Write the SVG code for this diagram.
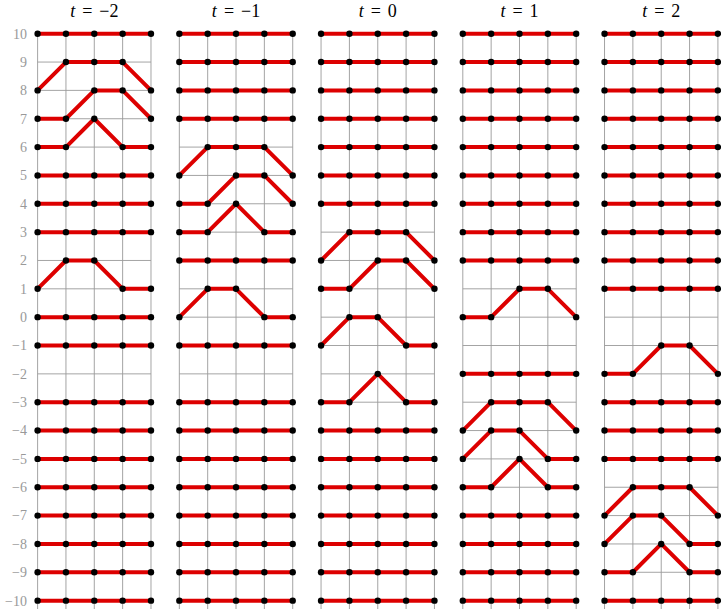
<svg xmlns="http://www.w3.org/2000/svg" xmlns:xlink="http://www.w3.org/1999/xlink" width="721" height="609" viewBox="0 0 721 609">
<style>
.g{fill:none;stroke:#9a9a9a;stroke-width:0.9}
.p{fill:none;stroke:#dd0000;stroke-width:4;stroke-linejoin:round}
.d{fill:#000}
</style>
<defs>
<path id="grid" class="g" d="M0 33.7V609M28.35 33.7V609M56.69 33.7V609M85.04 33.7V609M113.39 33.7V609M0 33.7H113.39M0 62.05H113.39M0 90.39H113.39M0 118.74H113.39M0 147.09H113.39M0 175.43H113.39M0 203.78H113.39M0 232.13H113.39M0 260.47H113.39M0 288.82H113.39M0 317.17H113.39M0 345.51H113.39M0 373.86H113.39M0 402.2H113.39M0 430.55H113.39M0 458.9H113.39M0 487.24H113.39M0 515.59H113.39M0 543.94H113.39M0 572.28H113.39M0 600.63H113.39"/>
<g id="flat">
<path class="p" d="M0 0H113.39"/>
<circle class="d" cx="0" cy="0" r="3.2"/><circle class="d" cx="28.35" cy="0" r="3.2"/><circle class="d" cx="56.69" cy="0" r="3.2"/><circle class="d" cx="85.04" cy="0" r="3.2"/><circle class="d" cx="113.39" cy="0" r="3.2"/>
</g>
</defs>
<g id="yaxis" font-family="Times New Roman, Liberation Serif, serif" font-size="14" fill="#999" text-anchor="end">
<text x="27" y="38.6">10</text>
<text x="27" y="66.95">9</text>
<text x="27" y="95.29">8</text>
<text x="27" y="123.64">7</text>
<text x="27" y="151.99">6</text>
<text x="27" y="180.33">5</text>
<text x="27" y="208.68">4</text>
<text x="27" y="237.03">3</text>
<text x="27" y="265.37">2</text>
<text x="27" y="293.72">1</text>
<text x="27" y="322.07">0</text>
<text x="27" y="350.41">−1</text>
<text x="27" y="378.76">−2</text>
<text x="27" y="407.1">−3</text>
<text x="27" y="435.45">−4</text>
<text x="27" y="463.8">−5</text>
<text x="27" y="492.14">−6</text>
<text x="27" y="520.49">−7</text>
<text x="27" y="548.84">−8</text>
<text x="27" y="577.18">−9</text>
<text x="27" y="605.53">−10</text>
</g>
<g id="titles" font-family="Times New Roman, Liberation Serif, serif" font-size="18" fill="#000" text-anchor="middle" word-spacing="2.5">
<text x="94.29" y="17"><tspan font-style="italic">t</tspan> = −2</text>
<text x="236.03" y="17"><tspan font-style="italic">t</tspan> = −1</text>
<text x="377.76" y="17"><tspan font-style="italic">t</tspan> = 0</text>
<text x="519.49" y="17"><tspan font-style="italic">t</tspan> = 1</text>
<text x="661.22" y="17"><tspan font-style="italic">t</tspan> = 2</text>
</g>
<g id="panel1" transform="translate(37.6,0)">
<use href="#grid"/>
<use href="#flat" y="33.7"/><use href="#flat" y="175.43"/><use href="#flat" y="203.78"/><use href="#flat" y="232.13"/><use href="#flat" y="317.17"/><use href="#flat" y="345.51"/>
<use href="#flat" y="402.2"/><use href="#flat" y="430.55"/><use href="#flat" y="458.9"/><use href="#flat" y="487.24"/><use href="#flat" y="515.59"/><use href="#flat" y="543.94"/><use href="#flat" y="572.28"/><use href="#flat" y="600.63"/>
<g id="p1a"><polyline class="p" points="0,90.39 28.35,62.05 56.69,62.05 85.04,62.05 113.39,90.39"/><circle class="d" cx="0" cy="90.39" r="3.2"/><circle class="d" cx="28.35" cy="62.05" r="3.2"/><circle class="d" cx="56.69" cy="62.05" r="3.2"/><circle class="d" cx="85.04" cy="62.05" r="3.2"/><circle class="d" cx="113.39" cy="90.39" r="3.2"/></g>
<g id="p1b"><polyline class="p" points="0,118.74 28.35,118.74 56.69,90.39 85.04,90.39 113.39,118.74"/><circle class="d" cx="0" cy="118.74" r="3.2"/><circle class="d" cx="28.35" cy="118.74" r="3.2"/><circle class="d" cx="56.69" cy="90.39" r="3.2"/><circle class="d" cx="85.04" cy="90.39" r="3.2"/><circle class="d" cx="113.39" cy="118.74" r="3.2"/></g>
<g id="p1c"><polyline class="p" points="0,147.09 28.35,147.09 56.69,118.74 85.04,147.09 113.39,147.09"/><circle class="d" cx="0" cy="147.09" r="3.2"/><circle class="d" cx="28.35" cy="147.09" r="3.2"/><circle class="d" cx="56.69" cy="118.74" r="3.2"/><circle class="d" cx="85.04" cy="147.09" r="3.2"/><circle class="d" cx="113.39" cy="147.09" r="3.2"/></g>
<g id="p1d"><polyline class="p" points="0,288.82 28.35,260.47 56.69,260.47 85.04,288.82 113.39,288.82"/><circle class="d" cx="0" cy="288.82" r="3.2"/><circle class="d" cx="28.35" cy="260.47" r="3.2"/><circle class="d" cx="56.69" cy="260.47" r="3.2"/><circle class="d" cx="85.04" cy="288.82" r="3.2"/><circle class="d" cx="113.39" cy="288.82" r="3.2"/></g>
</g>
<g id="panel2" transform="translate(179.33,0)">
<use href="#grid"/>
<use href="#flat" y="33.7"/><use href="#flat" y="62.05"/><use href="#flat" y="90.39"/><use href="#flat" y="118.74"/><use href="#flat" y="260.47"/><use href="#flat" y="345.51"/>
<use href="#flat" y="402.2"/><use href="#flat" y="430.55"/><use href="#flat" y="458.9"/><use href="#flat" y="487.24"/><use href="#flat" y="515.59"/><use href="#flat" y="543.94"/><use href="#flat" y="572.28"/><use href="#flat" y="600.63"/>
<g id="p2a"><polyline class="p" points="0,175.43 28.35,147.09 56.69,147.09 85.04,147.09 113.39,175.43"/><circle class="d" cx="0" cy="175.43" r="3.2"/><circle class="d" cx="28.35" cy="147.09" r="3.2"/><circle class="d" cx="56.69" cy="147.09" r="3.2"/><circle class="d" cx="85.04" cy="147.09" r="3.2"/><circle class="d" cx="113.39" cy="175.43" r="3.2"/></g>
<g id="p2b"><polyline class="p" points="0,203.78 28.35,203.78 56.69,175.43 85.04,175.43 113.39,203.78"/><circle class="d" cx="0" cy="203.78" r="3.2"/><circle class="d" cx="28.35" cy="203.78" r="3.2"/><circle class="d" cx="56.69" cy="175.43" r="3.2"/><circle class="d" cx="85.04" cy="175.43" r="3.2"/><circle class="d" cx="113.39" cy="203.78" r="3.2"/></g>
<g id="p2c"><polyline class="p" points="0,232.13 28.35,232.13 56.69,203.78 85.04,232.13 113.39,232.13"/><circle class="d" cx="0" cy="232.13" r="3.2"/><circle class="d" cx="28.35" cy="232.13" r="3.2"/><circle class="d" cx="56.69" cy="203.78" r="3.2"/><circle class="d" cx="85.04" cy="232.13" r="3.2"/><circle class="d" cx="113.39" cy="232.13" r="3.2"/></g>
<g id="p2d"><polyline class="p" points="0,317.17 28.35,288.82 56.69,288.82 85.04,317.17 113.39,317.17"/><circle class="d" cx="0" cy="317.17" r="3.2"/><circle class="d" cx="28.35" cy="288.82" r="3.2"/><circle class="d" cx="56.69" cy="288.82" r="3.2"/><circle class="d" cx="85.04" cy="317.17" r="3.2"/><circle class="d" cx="113.39" cy="317.17" r="3.2"/></g>
</g>
<g id="panel3" transform="translate(321.06,0)">
<use href="#grid"/>
<use href="#flat" y="33.7"/><use href="#flat" y="62.05"/><use href="#flat" y="90.39"/><use href="#flat" y="118.74"/><use href="#flat" y="147.09"/><use href="#flat" y="175.43"/><use href="#flat" y="203.78"/>
<use href="#flat" y="430.55"/><use href="#flat" y="458.9"/><use href="#flat" y="487.24"/><use href="#flat" y="515.59"/><use href="#flat" y="543.94"/><use href="#flat" y="572.28"/><use href="#flat" y="600.63"/>
<g id="p3a"><polyline class="p" points="0,260.47 28.35,232.13 56.69,232.13 85.04,232.13 113.39,260.47"/><circle class="d" cx="0" cy="260.47" r="3.2"/><circle class="d" cx="28.35" cy="232.13" r="3.2"/><circle class="d" cx="56.69" cy="232.13" r="3.2"/><circle class="d" cx="85.04" cy="232.13" r="3.2"/><circle class="d" cx="113.39" cy="260.47" r="3.2"/></g>
<g id="p3b"><polyline class="p" points="0,288.82 28.35,288.82 56.69,260.47 85.04,260.47 113.39,288.82"/><circle class="d" cx="0" cy="288.82" r="3.2"/><circle class="d" cx="28.35" cy="288.82" r="3.2"/><circle class="d" cx="56.69" cy="260.47" r="3.2"/><circle class="d" cx="85.04" cy="260.47" r="3.2"/><circle class="d" cx="113.39" cy="288.82" r="3.2"/></g>
<g id="p3c"><polyline class="p" points="0,345.51 28.35,317.17 56.69,317.17 85.04,345.51 113.39,345.51"/><circle class="d" cx="0" cy="345.51" r="3.2"/><circle class="d" cx="28.35" cy="317.17" r="3.2"/><circle class="d" cx="56.69" cy="317.17" r="3.2"/><circle class="d" cx="85.04" cy="345.51" r="3.2"/><circle class="d" cx="113.39" cy="345.51" r="3.2"/></g>
<g id="p3d"><polyline class="p" points="0,402.2 28.35,402.2 56.69,373.86 85.04,402.2 113.39,402.2"/><circle class="d" cx="0" cy="402.2" r="3.2"/><circle class="d" cx="28.35" cy="402.2" r="3.2"/><circle class="d" cx="56.69" cy="373.86" r="3.2"/><circle class="d" cx="85.04" cy="402.2" r="3.2"/><circle class="d" cx="113.39" cy="402.2" r="3.2"/></g>
</g>
<g id="panel4" transform="translate(462.8,0)">
<use href="#grid"/>
<use href="#flat" y="33.7"/><use href="#flat" y="62.05"/><use href="#flat" y="90.39"/><use href="#flat" y="118.74"/><use href="#flat" y="147.09"/><use href="#flat" y="175.43"/><use href="#flat" y="203.78"/><use href="#flat" y="232.13"/><use href="#flat" y="260.47"/>
<use href="#flat" y="373.86"/>
<use href="#flat" y="515.59"/><use href="#flat" y="543.94"/><use href="#flat" y="572.28"/><use href="#flat" y="600.63"/>
<g id="p4a"><polyline class="p" points="0,317.17 28.35,317.17 56.69,288.82 85.04,288.82 113.39,317.17"/><circle class="d" cx="0" cy="317.17" r="3.2"/><circle class="d" cx="28.35" cy="317.17" r="3.2"/><circle class="d" cx="56.69" cy="288.82" r="3.2"/><circle class="d" cx="85.04" cy="288.82" r="3.2"/><circle class="d" cx="113.39" cy="317.17" r="3.2"/></g>
<g id="p4b"><polyline class="p" points="0,430.55 28.35,402.2 56.69,402.2 85.04,402.2 113.39,430.55"/><circle class="d" cx="0" cy="430.55" r="3.2"/><circle class="d" cx="28.35" cy="402.2" r="3.2"/><circle class="d" cx="56.69" cy="402.2" r="3.2"/><circle class="d" cx="85.04" cy="402.2" r="3.2"/><circle class="d" cx="113.39" cy="430.55" r="3.2"/></g>
<g id="p4c"><polyline class="p" points="0,458.9 28.35,430.55 56.69,430.55 85.04,458.9 113.39,458.9"/><circle class="d" cx="0" cy="458.9" r="3.2"/><circle class="d" cx="28.35" cy="430.55" r="3.2"/><circle class="d" cx="56.69" cy="430.55" r="3.2"/><circle class="d" cx="85.04" cy="458.9" r="3.2"/><circle class="d" cx="113.39" cy="458.9" r="3.2"/></g>
<g id="p4d"><polyline class="p" points="0,487.24 28.35,487.24 56.69,458.9 85.04,487.24 113.39,487.24"/><circle class="d" cx="0" cy="487.24" r="3.2"/><circle class="d" cx="28.35" cy="487.24" r="3.2"/><circle class="d" cx="56.69" cy="458.9" r="3.2"/><circle class="d" cx="85.04" cy="487.24" r="3.2"/><circle class="d" cx="113.39" cy="487.24" r="3.2"/></g>
</g>
<g id="panel5" transform="translate(604.53,0)">
<use href="#grid"/>
<use href="#flat" y="33.7"/><use href="#flat" y="62.05"/><use href="#flat" y="90.39"/><use href="#flat" y="118.74"/><use href="#flat" y="147.09"/><use href="#flat" y="175.43"/><use href="#flat" y="203.78"/><use href="#flat" y="232.13"/><use href="#flat" y="260.47"/><use href="#flat" y="288.82"/>
<use href="#flat" y="402.2"/><use href="#flat" y="430.55"/><use href="#flat" y="458.9"/>
<use href="#flat" y="600.63"/>
<g id="p5a"><polyline class="p" points="0,373.86 28.35,373.86 56.69,345.51 85.04,345.51 113.39,373.86"/><circle class="d" cx="0" cy="373.86" r="3.2"/><circle class="d" cx="28.35" cy="373.86" r="3.2"/><circle class="d" cx="56.69" cy="345.51" r="3.2"/><circle class="d" cx="85.04" cy="345.51" r="3.2"/><circle class="d" cx="113.39" cy="373.86" r="3.2"/></g>
<g id="p5b"><polyline class="p" points="0,515.59 28.35,487.24 56.69,487.24 85.04,487.24 113.39,515.59"/><circle class="d" cx="0" cy="515.59" r="3.2"/><circle class="d" cx="28.35" cy="487.24" r="3.2"/><circle class="d" cx="56.69" cy="487.24" r="3.2"/><circle class="d" cx="85.04" cy="487.24" r="3.2"/><circle class="d" cx="113.39" cy="515.59" r="3.2"/></g>
<g id="p5c"><polyline class="p" points="0,543.94 28.35,515.59 56.69,515.59 85.04,543.94 113.39,543.94"/><circle class="d" cx="0" cy="543.94" r="3.2"/><circle class="d" cx="28.35" cy="515.59" r="3.2"/><circle class="d" cx="56.69" cy="515.59" r="3.2"/><circle class="d" cx="85.04" cy="543.94" r="3.2"/><circle class="d" cx="113.39" cy="543.94" r="3.2"/></g>
<g id="p5d"><polyline class="p" points="0,572.28 28.35,572.28 56.69,543.94 85.04,572.28 113.39,572.28"/><circle class="d" cx="0" cy="572.28" r="3.2"/><circle class="d" cx="28.35" cy="572.28" r="3.2"/><circle class="d" cx="56.69" cy="543.94" r="3.2"/><circle class="d" cx="85.04" cy="572.28" r="3.2"/><circle class="d" cx="113.39" cy="572.28" r="3.2"/></g>
</g>
</svg>
